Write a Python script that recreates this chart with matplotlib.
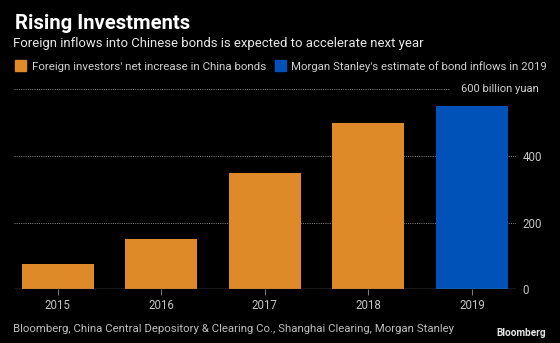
import matplotlib
matplotlib.use("Agg")
import matplotlib.pyplot as plt
from matplotlib.patches import Rectangle

years = ["2015", "2016", "2017", "2018", "2019"]
values = [75, 150, 350, 500, 550]
bar_colors = ["#DE8A28", "#DE8A28", "#DE8A28", "#DE8A28", "#0052B8"]
y_ticks = [0, 200, 400]
top_label = "600 billion yuan"

title = "Rising Investments"
subtitle = "Foreign inflows into Chinese bonds is expected to accelerate next year"
legend_labels = ["Foreign investors' net increase in China bonds",
                 "Morgan Stanley's estimate of bond inflows in 2019"]
legend_colors = ["#DE8A28", "#0052B8"]
source = "Bloomberg, China Central Depository & Clearing Co., Shanghai Clearing, Morgan Stanley"

FONT = ["Roboto", "DejaVu Sans"]
plt.rcParams['font.family'] = FONT

W, H = 560, 343
fig = plt.figure(figsize=(W / 100, H / 100), dpi=100, facecolor="black")
renderer = fig.canvas.get_renderer()


def fx(px):
    return px / W


def fy(py):
    return 1 - py / H


def fit(t, target_w):
    """Scale a text's font size so that its rendered width is target_w px."""
    for _ in range(3):
        w = t.get_window_extent(renderer).width
        t.set_fontsize(t.get_fontsize() * target_w / w)
    return t


def size_for(s, target_w, **kw):
    t = fig.text(0, 0, s, fontsize=10, **kw)
    fit(t, target_w)
    fs = t.get_fontsize()
    t.remove()
    return fs


ax = fig.add_axes([fx(14), fy(289.3), fx(516) - fx(14), fy(89.3) - fy(289.3)])
ax.set_facecolor("black")
x = list(range(len(years)))
ax.set_xlim(-0.42, 4.425)
ax.set_ylim(0, 600)

grid_col = "#8c8c8c"
for t in y_ticks[1:]:
    ax.axhline(t, color=grid_col, lw=0.7, ls=(0, (1, 1.3)), zorder=0)
ax.plot([-0.42, 3.78], [600, 600], color=grid_col, lw=0.7, ls=(0, (1, 1.3)),
        clip_on=False, zorder=0)

ax.bar(x, values, width=0.695, color=bar_colors, zorder=2)
ax.axhline(0, color="#7a7a7a", lw=1.0, zorder=3)

for s in ax.spines.values():
    s.set_visible(False)

tick_fs = size_for("2015", 26)
ax.set_xticks(x)
ax.set_xticklabels(years)
ax.tick_params(axis="x", colors="#7a7a7a", labelcolor="#c4c4c4", length=4,
               width=0.8, labelsize=tick_fs, pad=3.0)
ax.yaxis.tick_right()
ax.set_yticks(y_ticks)
ax.set_yticklabels([str(t) for t in y_ticks])
ax.tick_params(axis="y", length=0, labelcolor="#c4c4c4", labelsize=tick_fs, pad=4.8)

t600 = fig.text(fx(460.7), fy(92.3), top_label, color="#d0d0d0", fontsize=9,
                ha="left", va="baseline")
fit(t600, 539.3 - 460.7)

tt = fig.text(fx(14.7), fy(29.3), title, color="white", fontsize=13,
              fontweight="bold", ha="left", va="baseline")
fit(tt, 190 - 14.7)
st = fig.text(fx(13.3), fy(47.3), subtitle, color="#e8e8e8", fontsize=9,
              ha="left", va="baseline")
fit(st, 425 - 13.3)

# legend
sq_x = [15, 275]
txt_x = [31.7, 291]
txt_end = [266, 546]
for i, (lab, col) in enumerate(zip(legend_labels, legend_colors)):
    fig.patches.append(Rectangle((fx(sq_x[i]), fy(71)), 11 / W, 11 / H,
                                 transform=fig.transFigure, color=col))
    lt = fig.text(fx(txt_x[i]), fy(70), lab, color="#cfcfcf", fontsize=8,
                  ha="left", va="baseline")
    fit(lt, txt_end[i] - txt_x[i])

src = fig.text(fx(13.3), fy(331.7), source, color="#bdbdbd", fontsize=8,
               ha="left", va="baseline")
fit(src, 451.7 - 13.3)
logo = fig.text(fx(496.7), fy(335.7), "Bloomberg", color="#e6e6e6", fontsize=7,
                fontweight="bold", ha="left", va="baseline")
fit(logo, 546 - 496.7)

fig.savefig("out.png", dpi=100, facecolor="black")
